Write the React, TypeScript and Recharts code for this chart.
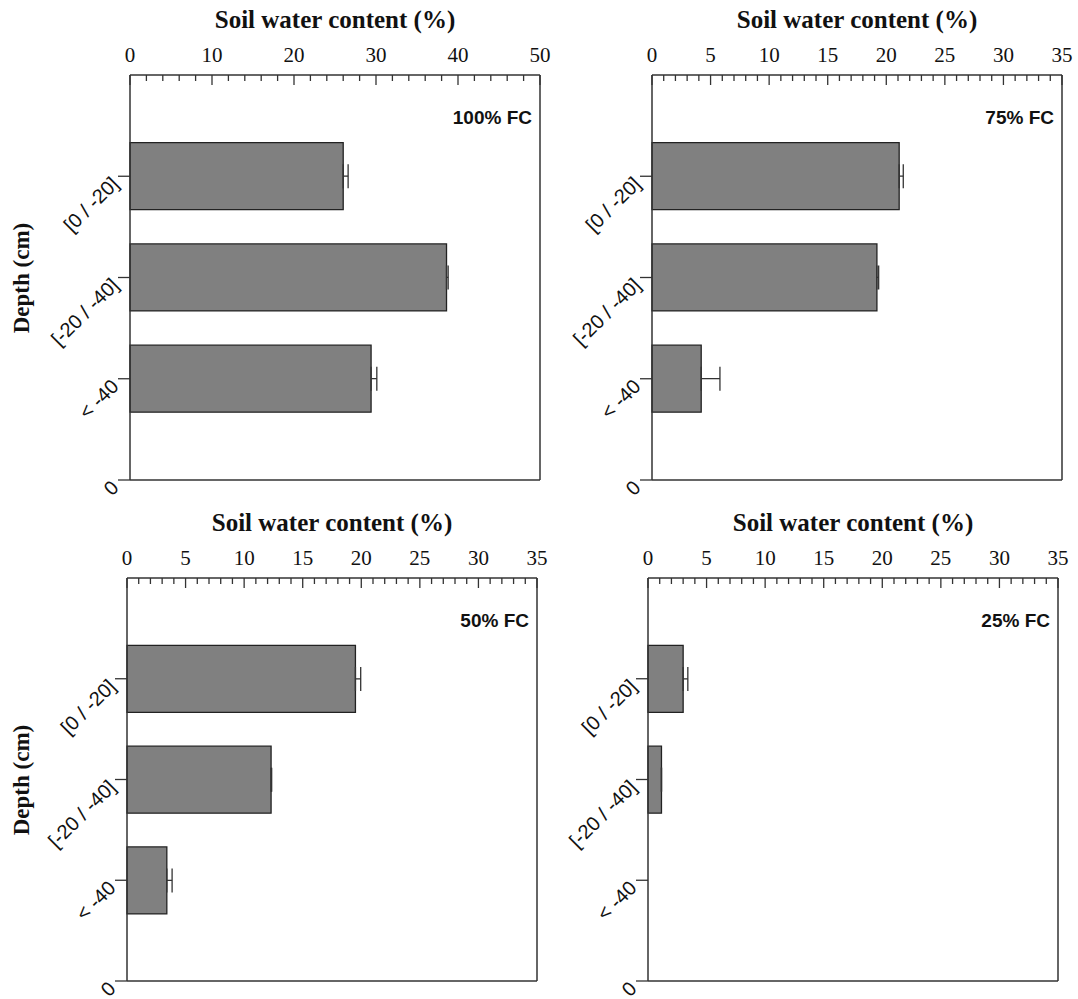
import React from 'react';
import { BarChart, Bar, XAxis, YAxis, ErrorBar } from 'recharts';

// depth classes, bottom to top on the y axis (0 is the axis origin)
const depthLabels = ['0', '< -40', '[-20 / -40]', '[0 / -20]'];
const depthPos = [3, 2, 1];

const ticks50 = [0, 10, 20, 30, 40, 50];
const ticks35 = [0, 5, 10, 15, 20, 25, 30, 35];

const fc100Mean = [26.0, 38.6, 29.4];
const fc100Err = [0.6, 0.2, 0.7];
const fc75Mean = [21.1, 19.2, 4.2];
const fc75Err = [0.35, 0.15, 1.6];
const fc50Mean = [19.5, 12.3, 3.4];
const fc50Err = [0.45, 0.05, 0.45];
const fc25Mean = [3.0, 1.15, 0];
const fc25Err = [0.4, 0, 0];

const AXIS = '#333';

const makeRows = (mean: number[], err: number[]) =>
  depthPos.map((pos, i) => ({ pos, value: mean[i], err: [0, err[i]] }));

const minorTicks = (max: number, step: number) => {
  const out: number[] = [];
  for (let v = 0; v <= max + 1e-9; v += step) out.push(Math.round(v * 100) / 100);
  return out;
};

const XTick = (props: any) => {
  const { x, y, payload, majors } = props;
  const major = majors.includes(payload.value);
  return (
    <g>
      <line x1={x} y1={y} x2={x} y2={y + (major ? 10 : 6)} stroke={AXIS} strokeWidth={1.3} />
      {major && (
        <text x={x} y={y - 13} textAnchor="middle" fontFamily="Liberation Serif" fontSize={21} fill="#111">
          {payload.value}
        </text>
      )}
    </g>
  );
};

const YTick = (props: any) => {
  const { x, y, payload } = props;
  const ty = y + 4;
  return (
    <text
      x={x}
      y={ty}
      textAnchor="end"
      dominantBaseline="central"
      transform={`rotate(-45 ${x} ${ty})`}
      fontFamily="Liberation Sans"
      fontSize={20}
      fill="#111"
    >
      {depthLabels[payload.value]}
    </text>
  );
};

type PanelProps = {
  left: number;
  top: number;
  h: number;
  max: number;
  majors: number[];
  minorStep: number;
  mean: number[];
  err: number[];
  tag: string;
  showDepth: boolean;
};

const Panel = ({ left, top, h, max, majors, minorStep, mean, err, tag, showDepth }: PanelProps) => {
  const w = 410;
  const padL = 130;
  const padT = 75;
  const data = makeRows(mean, err);
  return (
    <>
      <div
        style={{
          position: 'absolute',
          left,
          top: top - 70,
          width: w,
          textAlign: 'center',
          fontFamily: 'Liberation Serif',
          fontWeight: 'bold',
          fontSize: 25,
          lineHeight: '30px',
          color: '#111',
        }}
      >
        Soil water content (%)
      </div>
      {showDepth && (
        <div
          style={{
            position: 'absolute',
            left: 22 - 100,
            top: top + h / 2 - 15,
            width: 200,
            height: 30,
            lineHeight: '30px',
            textAlign: 'center',
            transform: 'rotate(-90deg)',
            fontFamily: 'Liberation Serif',
            fontWeight: 'bold',
            fontSize: 23,
            color: '#111',
          }}
        >
          Depth (cm)
        </div>
      )}
      <div
        style={{
          position: 'absolute',
          left: left + w - 208,
          top: top + 43 - 12,
          width: 200,
          height: 24,
          lineHeight: '24px',
          textAlign: 'right',
          fontFamily: 'Liberation Sans',
          fontWeight: 'bold',
          fontSize: 19,
          color: '#111',
        }}
      >
        {tag}
      </div>
      <div style={{ position: 'absolute', left: left - padL, top: top - padT }}>
        <BarChart
          width={padL + w + 12}
          height={padT + h + 30}
          data={data}
          layout="vertical"
          margin={{ top: padT - 45, left: padL - 60, right: 11, bottom: 29 }}
        >
          <XAxis
            xAxisId="x"
            orientation="top"
            type="number"
            domain={[0, max]}
            ticks={minorTicks(max, minorStep)}
            interval={0}
            height={45}
            tickSize={0}
            tickMargin={0}
            tickLine={false}
            tick={<XTick majors={majors} />}
            axisLine={{ stroke: AXIS, strokeWidth: 1.5 }}
          />
          <XAxis
            xAxisId="b"
            orientation="bottom"
            type="number"
            domain={[0, max]}
            height={1}
            tick={false}
            tickLine={false}
            axisLine={{ stroke: AXIS, strokeWidth: 1.5 }}
          />
          <YAxis
            yAxisId="y"
            dataKey="pos"
            type="number"
            domain={[0, 4]}
            reversed
            ticks={[0, 1, 2, 3]}
            interval={0}
            width={60}
            tickSize={12}
            tickMargin={3}
            tickLine={{ stroke: AXIS, strokeWidth: 1.3 }}
            tick={<YTick />}
            axisLine={{ stroke: AXIS, strokeWidth: 1.5 }}
          />
          <YAxis
            yAxisId="r"
            orientation="right"
            type="number"
            domain={[0, 4]}
            width={1}
            tick={false}
            tickLine={false}
            axisLine={{ stroke: AXIS, strokeWidth: 1.5 }}
          />
          <Bar
            xAxisId="x"
            yAxisId="y"
            dataKey="value"
            barSize={67}
            fill="#808080"
            stroke="#222"
            strokeWidth={1.3}
            isAnimationActive={false}
          >
            <ErrorBar dataKey="err" direction="x" width={12} stroke="#333" strokeWidth={1.3} />
          </Bar>
        </BarChart>
      </div>
    </>
  );
};

export default function App() {
  return (
    <div style={{ position: 'absolute', left: 0, top: 0, width: 1078, height: 999, background: '#fff', overflow: 'hidden' }}>
      <Panel left={130} top={75} h={405} max={50} majors={ticks50} minorStep={2}
        mean={fc100Mean} err={fc100Err} tag="100% FC" showDepth />
      <Panel left={652} top={75} h={405} max={35} majors={ticks35} minorStep={1}
        mean={fc75Mean} err={fc75Err} tag="75% FC" showDepth={false} />
      <Panel left={127} top={578} h={403} max={35} majors={ticks35} minorStep={1}
        mean={fc50Mean} err={fc50Err} tag="50% FC" showDepth />
      <Panel left={648} top={578} h={403} max={35} majors={ticks35} minorStep={1}
        mean={fc25Mean} err={fc25Err} tag="25% FC" showDepth={false} />
    </div>
  );
}
